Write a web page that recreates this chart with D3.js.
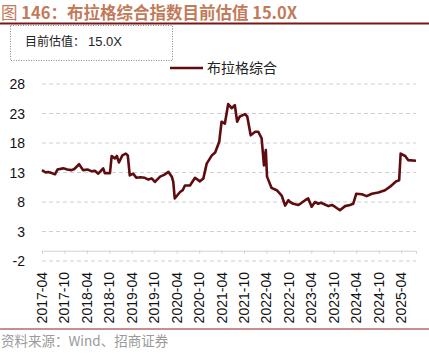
<!DOCTYPE html>
<html lang="zh">
<head>
<meta charset="UTF-8">
<title>布拉格综合指数目前估值</title>
<script src="https://d3js.org/d3.v7.min.js"></script>
<style>
  body { margin: 0; background: #fff; }
  text { font-family: "Liberation Sans", Arial, sans-serif; }
  .cjk { font-family: "Noto Sans CJK SC", sans-serif; }
  .grid line { stroke: #d0d0d0; stroke-dasharray: 4 3; }
</style>
</head>
<body>
<script>
// 布拉格综合 PE
const dates = [
  "2017-04-01","2017-05-01","2017-05-20","2017-06-20","2017-07-15","2017-08-05","2017-09-20",
  "2017-10-25","2017-11-28","2017-12-20",
  "2018-01-28","2018-03-01","2018-04-10","2018-05-10","2018-06-05","2018-07-03","2018-08-12","2018-08-25",
  "2018-10-06","2018-10-20","2018-11-15","2018-12-01","2018-12-18","2019-01-15",
  "2019-02-12","2019-02-28","2019-03-16","2019-04-12","2019-05-10","2019-06-10","2019-07-16",
  "2019-08-15","2019-09-10","2019-10-07","2019-11-18","2019-12-20","2020-01-25","2020-02-21","2020-03-04",
  "2020-03-16","2020-04-28","2020-05-20","2020-06-07","2020-07-18","2020-08-28","2020-10-07",
  "2020-11-04","2020-12-01","2021-01-12","2021-02-08","2021-03-13","2021-04-01",
  "2021-04-28","2021-05-25","2021-06-22","2021-07-18","2021-08-06","2021-08-28",
  "2021-10-09","2021-10-27","2021-11-24","2021-12-31","2022-01-25","2022-02-21",
  "2022-03-12","2022-03-27","2022-04-06","2022-05-12","2022-06-24","2022-08-03",
  "2022-08-31","2022-09-27","2022-10-10","2022-11-06","2022-12-16","2023-01-01",
  "2023-02-10","2023-03-07","2023-04-04","2023-05-01","2023-05-28","2023-06-20","2023-07-07",
  "2023-08-18","2023-09-15","2023-10-10","2023-11-20","2024-01-01","2024-02-10","2024-03-07","2024-04-01",
  "2024-05-16","2024-06-25","2024-08-06","2024-09-28","2024-11-21","2025-01-01",
  "2025-02-20","2025-03-16","2025-03-28","2025-05-04","2025-05-28","2025-07-31"
];
const values = [
  13.4,13.0,13.1,12.9,12.7,13.5,13.7,
  13.5,13.4,13.6,
  14.4,13.4,13.5,13.2,13.3,12.8,13.7,12.9,
  12.9,15.8,15.4,15.8,14.7,15.9,
  16.2,15.9,12.5,12.8,12.1,12.2,12.1,
  11.8,12.0,11.4,12.3,12.6,13.1,12.3,11.4,
  8.6,9.7,10.0,10.8,10.8,12.1,11.5,
  12.0,14.5,15.9,16.4,18.2,21.6,
  21.3,24.6,23.9,24.4,21.6,22.5,
  22.9,22.5,19.3,19.9,19.9,18.8,
  14.2,16.8,12.3,10.4,10.0,9.1,
  7.4,8.3,8.0,7.7,7.5,7.7,
  8.3,8.6,7.2,8.0,7.7,7.9,7.7,
  7.3,7.5,7.2,6.6,7.3,7.5,7.7,9.4,
  9.3,9.0,9.4,9.6,10.0,10.6,
  11.5,11.7,16.2,15.8,15.1,15.0
];
const yTicks = [-2, 3, 8, 13, 18, 23, 28];
const xTickLabels = ["2017-04","2017-10","2018-04","2018-10","2019-04","2019-10",
  "2020-04","2020-10","2021-04","2021-10","2022-04","2022-10","2023-04","2023-10",
  "2024-04","2024-10","2025-04"];

const W = 429, H = 353;
const parse = d3.timeParse("%Y-%m-%d");
const data = dates.map((d, i) => ({ date: parse(d), value: values[i] }));

const svg = d3.select("body").append("svg")
  .attr("width", W).attr("height", H);

// 标题
const title = svg.append("text").attr("class", "cjk")
  .attr("x", 1).attr("y", 19)
  .attr("font-size", 16.5).attr("fill", "#c27a58");
title.append("tspan").text("图 ");
title.append("tspan").attr("font-weight", "bold").text("146：布拉格综合指数目前估值 15.0X");

svg.append("line").attr("x1", 0).attr("x2", W).attr("y1", 23.5).attr("y2", 23.5)
  .attr("stroke", "#7a1818").attr("stroke-width", 2);

// 估值框
svg.append("rect").attr("x", 10.5).attr("y", 25.5).attr("width", 162).attr("height", 35)
  .attr("fill", "none").attr("stroke", "#888").attr("stroke-dasharray", "1 1.5");
const box = svg.append("text").attr("x", 25).attr("y", 46).attr("font-size", 12).attr("fill", "#222");
box.append("tspan").attr("class", "cjk").text("目前估值：");
box.append("tspan").attr("dx", 3).attr("font-size", 13).text("15.0X");

// 比例尺
const x = d3.scaleTime()
  .domain([parse("2017-04-01"), parse("2025-07-31")])
  .range([42, 416]);
const y = d3.scaleLinear().domain([-2, 28]).range([261, 84]);

// 网格
svg.append("g").attr("class", "grid")
  .selectAll("line").data(yTicks).join("line")
  .attr("x1", 42).attr("x2", 416)
  .attr("y1", d => y(d)).attr("y2", d => y(d));

// Y 轴标签
svg.append("g").selectAll("text").data(yTicks).join("text")
  .attr("x", 25).attr("y", d => y(d)).attr("dy", "0.36em")
  .attr("text-anchor", "end").attr("font-size", 14).attr("fill", "#111")
  .text(d => d);

// X 轴（0 处）
const tickDates = xTickLabels.map(s => parse(s + "-01"));
const xAxis = svg.append("g").attr("transform", `translate(0,${y(0) + 1.5})`)
  .call(d3.axisBottom(x).tickValues(tickDates).tickSize(3).tickFormat(""));
xAxis.select(".domain").attr("stroke", "#d0d0d0");
xAxis.selectAll(".tick line").attr("stroke", "#d0d0d0");

svg.append("g").selectAll("text").data(tickDates).join("text")
  .attr("transform", d => `translate(${x(d) + 5},272) rotate(-90)`)
  .attr("text-anchor", "end").attr("font-size", 14).attr("fill", "#111")
  .text((d, i) => xTickLabels[i]);

// 折线
svg.append("path").datum(data)
  .attr("fill", "none").attr("stroke", "#5e0c10").attr("stroke-width", 2.6)
  .attr("stroke-linejoin", "round")
  .attr("d", d3.line().x(d => x(d.date)).y(d => y(d.value)));

// 图例
svg.append("line").attr("x1", 170).attr("x2", 203).attr("y1", 68).attr("y2", 68)
  .attr("stroke", "#5e0c10").attr("stroke-width", 2.6);
svg.append("text").attr("class", "cjk").attr("x", 207).attr("y", 73)
  .attr("font-size", 14).attr("fill", "#222").text("布拉格综合");

// 底部
svg.append("line").attr("x1", 0).attr("x2", W).attr("y1", 329).attr("y2", 329)
  .attr("stroke", "#8a2020").attr("stroke-width", 1);
svg.append("text").attr("x", 1).attr("y", 346).attr("font-size", 13.5).attr("fill", "#9a9a9a")
  .append("tspan").attr("class", "cjk").text("资料来源：Wind、招商证券");
</script>
</body>
</html>
